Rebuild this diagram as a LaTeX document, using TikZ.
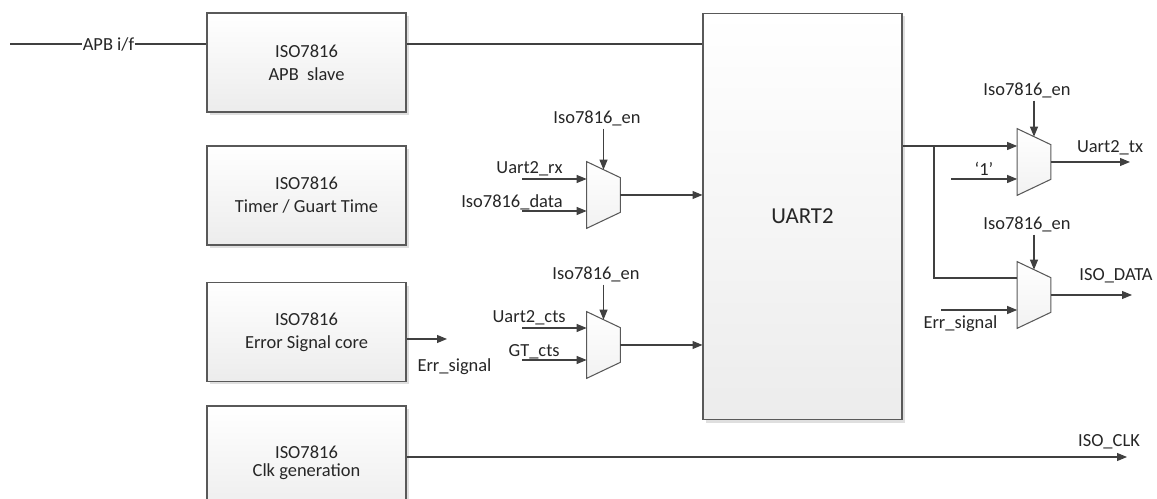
\documentclass[tikz,border=0pt]{standalone}
\usepackage{fontspec}
\setmainfont{Carlito}
\usepackage{tikz}
\usetikzlibrary{shapes.geometric, arrows.meta, positioning, shadows}
\definecolor{wiregray}{RGB}{64, 64, 64}
\definecolor{edgegray}{RGB}{89, 89, 89}
\definecolor{boxbottom}{RGB}{236, 236, 236}

\begin{document}
\begin{tikzpicture}[
      x=0.02cm, y=-0.02cm,
      font=\fontsize{10.5}{13}\selectfont, text=black!85,
      box/.style={draw=edgegray, line width=0.6pt, top color=white,
                  bottom color=boxbottom, minimum width=3.98cm,
                  minimum height=1.98cm, align=center,
                  drop shadow={shadow xshift=0.06cm, shadow yshift=-0.06cm,
                               fill=black!25, opacity=0.5}},
      mux/.style={minimum width=0.66cm, minimum height=1.32cm, inner sep=0pt},
      muxedge/.style={draw=edgegray, line width=0.6pt, top color=white,
                      bottom color=boxbottom!70},
      arr/.style={-{Triangle[length=0.2cm, width=0.16cm]}, wiregray, line width=0.6pt},
      wire/.style={wiregray, line width=0.6pt},
      lbl/.style={inner sep=0pt},
      sel/.style={inner sep=1.5pt}
    ]
    \useasboundingbox (0,0) rectangle (1157,499);

    \node[box] (apb) at (306.5,62.5) {ISO7816\\APB\ \ slave};
    \node[box] (tmr) at (306.5,195.5) {ISO7816\\Timer / Guart Time};
    \node[box] (err) at (306.5,332) {ISO7816\\Error Signal core};
    \node[box, minimum height=2.28cm, font=\fontsize{10.5}{10}\selectfont]
      (clk) at (306.5,463) {ISO7816\\Clk generation};
    \node[box, minimum height=8.14cm, font=\fontsize{13}{15}\selectfont]
      (uart) at (802.5,216.5) {UART2};

    \node[mux] (m1) at (603.5,195) {};
    \node[mux] (m2) at (603.5,345) {};
    \node[mux] (m3) at (1034,162) {};
    \node[mux] (m4) at (1034,295) {};
    \foreach \m in {m1,m2,m3,m4}
      \draw[muxedge] (\m.north west) -- ([yshift=-0.32cm]\m.north east)
        -- ([yshift=0.32cm]\m.south east) -- (\m.south west) -- cycle;

    \coordinate (apbin) at (10,44);
    \node[lbl] (apbif) at (108.5,44) {APB i/f};
    \draw[wire] (apbin) -- (apbif.west);
    \draw[wire] (apbif.east) -- (apbif.east -| apb.west);
    \draw[wire] (apb.east |- apbif) -- (uart.west |- apbif);

    \node[lbl, anchor=east] (rxl) at (563,169) {Uart2\_rx};
    \node[lbl, anchor=east] (datal) at (563,202) {Iso7816\_data};
    \node[sel] (en1) at (597,118) {Iso7816\_en};
    \coordinate (rx) at (522,179);
    \coordinate (data) at (522,211);
    \draw[arr] (rx) -- (rx -| m1.west);
    \draw[arr] (data) -- (data -| m1.west);
    \draw[arr] (en1.south -| m1.north) -- ([yshift=-0.16cm]m1.north);
    \draw[arr] (m1.east) -- (m1.east -| uart.west);

    \node[lbl, anchor=east] (ctsl) at (566,318) {Uart2\_cts};
    \node[lbl, anchor=east] (gtl) at (560,352) {GT\_cts};
    \node[sel] (en2) at (596,274) {Iso7816\_en};
    \coordinate (cts) at (522,328);
    \coordinate (gt) at (522,360);
    \draw[arr] (cts) -- (cts -| m2.west);
    \draw[arr] (gt) -- (gt -| m2.west);
    \draw[arr] (en2.south -| m2.north) -- ([yshift=-0.16cm]m2.north);
    \draw[arr] (m2.east) -- (m2.east -| uart.west);

    \coordinate (errout) at (447,339);
    \draw[arr] (errout -| err.east) -- (errout);
    \node[lbl] (errl) at (454.5,367) {Err\_signal};

    \coordinate (tap) at (934,146);
    \draw[arr] (tap -| uart.east) -- (tap -| m3.west);
    \draw[wire] (tap) |- ([yshift=0.34cm]m4.west);
    \node[lbl] (onel) at (984,169) {`1'};
    \coordinate (one) at (951,179);
    \draw[arr] (one) -- (one -| m3.west);
    \node[sel] (en3) at (1027,90) {Iso7816\_en};
    \draw[arr] (en3.south -| m3.north) -- ([yshift=-0.16cm]m3.north);
    \coordinate (tx) at (1130,162);
    \draw[arr] (m3.east) -- (m3.east -| tx);
    \node[lbl] (txl) at (1110,148) {Uart2\_tx};

    \node[sel] (en4) at (1027,224) {Iso7816\_en};
    \draw[arr] (en4.south -| m4.north) -- ([yshift=-0.16cm]m4.north);
    \coordinate (err2) at (941,310);
    \draw[arr] (err2) -- (err2 -| m4.west);
    \node[lbl] (err2l) at (960.5,324) {Err\_signal};
    \coordinate (isod) at (1132,296);
    \draw[arr] (m4.east) -- (m4.east -| isod);
    \node[lbl] (isodl) at (1116,276) {ISO\_DATA};

    \coordinate (clkout) at (1127,457);
    \draw[arr] (clkout -| clk.east) -- (clkout);
    \node[lbl] (clkl) at (1109,442) {ISO\_CLK};
  \end{tikzpicture}
\end{document}
